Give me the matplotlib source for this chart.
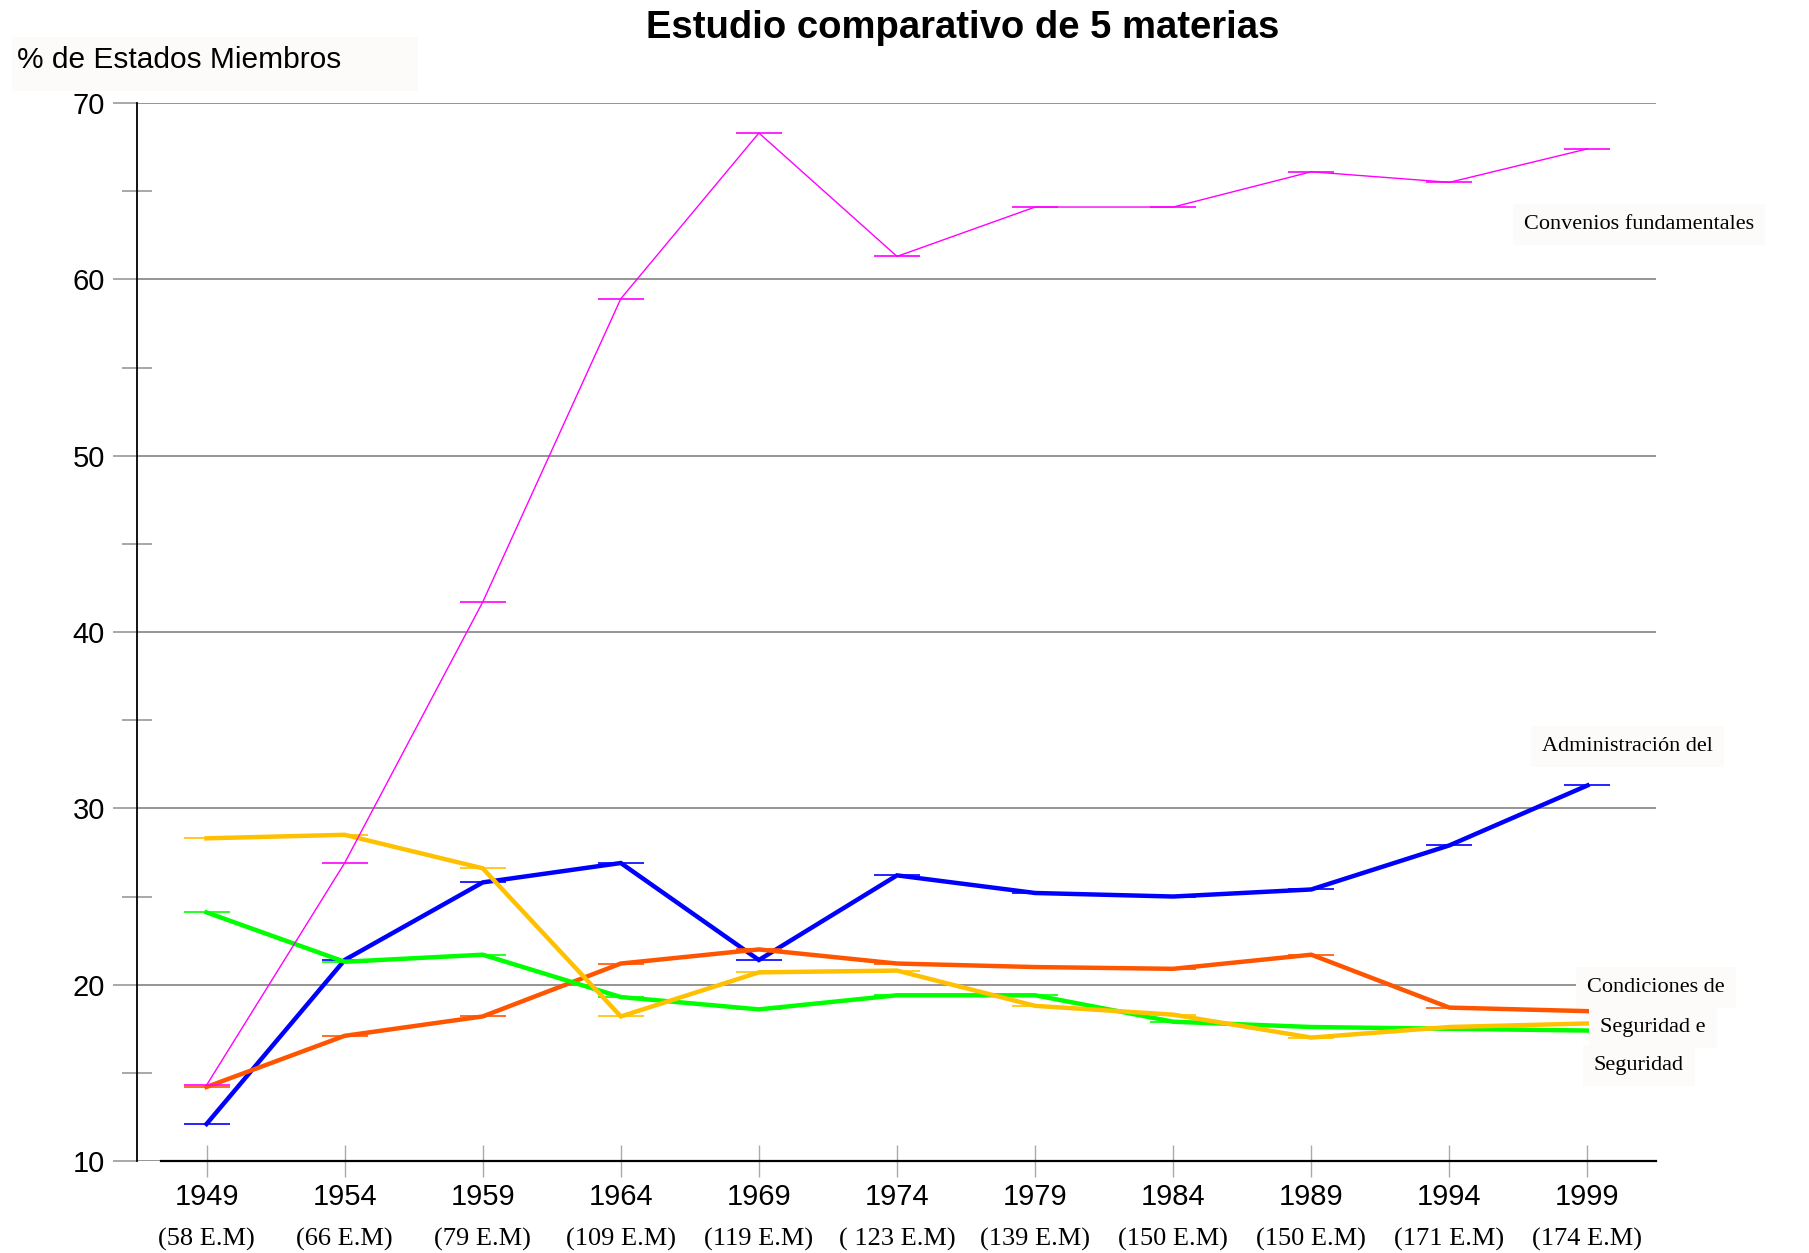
import matplotlib
matplotlib.use("Agg")
import matplotlib.pyplot as plt
from matplotlib.ticker import MultipleLocator
import matplotlib.transforms as mtransforms
from matplotlib.patches import Rectangle

years = [1949, 1954, 1959, 1964, 1969, 1974, 1979, 1984, 1989, 1994, 1999]
member_states = ["(58 E.M)", "(66 E.M)", "(79 E.M)", "(109 E.M)", "(119 E.M)", "( 123 E.M)",
                 "(139 E.M)", "(150 E.M)", "(150 E.M)", "(171 E.M)", "(174 E.M)"]

convenios_fundamentales = [14.3, 26.9, 41.7, 58.9, 68.3, 61.3, 64.1, 64.1, 66.1, 65.5, 67.4]
administracion_trabajo = [12.1, 21.4, 25.8, 26.9, 21.4, 26.2, 25.2, 25.0, 25.4, 27.9, 31.3]
condiciones_trabajo = [14.2, 17.1, 18.2, 21.2, 22.0, 21.2, 21.0, 20.9, 21.7, 18.7, 18.5]
seguridad_higiene = [28.3, 28.5, 26.6, 18.2, 20.7, 20.8, 18.8, 18.3, 17.0, 17.6, 17.8]
seguridad_social = [24.1, 21.3, 21.7, 19.3, 18.6, 19.4, 19.4, 17.9, 17.6, 17.5, 17.4]

fig = plt.figure(figsize=(18.09, 12.53), dpi=100)

box_col = "#fcfbfa"
fig.patches.append(Rectangle((0.0064, 0.9274), 0.2245, 0.0431, transform=fig.transFigure,
                             facecolor=box_col, edgecolor="none", zorder=-5))

ax = fig.add_axes([0.0757, 0.0734, 0.8397, 0.8444])
ax.set_zorder(1)
ax.patch.set_alpha(0)

series = [
    (administracion_trabajo, "#0000FF", 3.2),
    (condiciones_trabajo, "#FF5500", 3.2),
    (seguridad_social, "#00FF00", 3.2),
    (seguridad_higiene, "#FFC000", 3.2),
    (convenios_fundamentales, "#FF00FF", 1.0),
]
for vals, col, lw in series:
    ax.plot(years, vals, color=col, lw=lw, marker="_", markersize=33,
            markeredgewidth=1.2, solid_joinstyle="miter", zorder=3)

ax.set_xlim(1946.48, 2001.48)
ax.set_ylim(10, 70)
ax.yaxis.set_major_locator(MultipleLocator(10))
ax.yaxis.set_minor_locator(MultipleLocator(5))
ax.set_xticks(years)
ax.set_xticklabels([str(y) for y in years], fontsize=21, family="Liberation Sans")
for lab in ax.get_yticklabels():
    lab.set_family("Liberation Sans")
ax.tick_params(axis="y", which="major", direction="out", length=17, width=1.2,
               color="#999999", labelsize=21, pad=6)
ax.tick_params(axis="y", which="minor", direction="inout", length=21, width=1.2,
               color="#999999")
ax.tick_params(axis="x", which="major", direction="inout", length=23, width=1.0,
               color="#aaaaaa", labelsize=21, pad=4)

ax.grid(axis="y", which="major", color="#8c8c8c", lw=1.3, zorder=1)
for s in ["top", "right"]:
    ax.spines[s].set_visible(False)
ax.spines["left"].set_color("black")
ax.spines["left"].set_linewidth(1.3)
ax.spines["bottom"].set_color("black")
ax.spines["bottom"].set_linewidth(1.6)
ax.spines["bottom"].set_bounds(1947.35, 2001.48)
ax.spines["bottom"].set_zorder(2)

trans = mtransforms.blended_transform_factory(ax.transData, ax.transAxes)
for y, em in zip(years, member_states):
    ax.text(y, -0.0745, em, transform=trans, ha="center", va="center",
            fontsize=19, family="Liberation Serif")

fig.text(0.532, 0.978, "Estudio comparativo de 5 materias", ha="center", va="center",
         fontsize=27.5, fontweight="bold", family="Liberation Sans")

fig.text(0.0094, 0.9525, "% de Estados Miembros", ha="left", va="center",
         fontsize=21.5, family="Liberation Sans")

lab_kw = dict(fontsize=16, family="Liberation Serif", ha="left", va="center",
              clip_on=False, bbox=dict(facecolor=box_col, edgecolor="none", pad=8))
ax.text(1996.7, 63.1, "Convenios fundamentales", **lab_kw)
ax.text(1997.35, 33.5, "Administración del", **lab_kw)
ax.text(1998.98, 19.85, "Condiciones de", **lab_kw)
ax.text(1999.45, 17.6, "Seguridad e", **lab_kw)
ax.text(1999.23, 15.4, "Seguridad", **lab_kw)

fig.savefig("out.png", dpi=100)
